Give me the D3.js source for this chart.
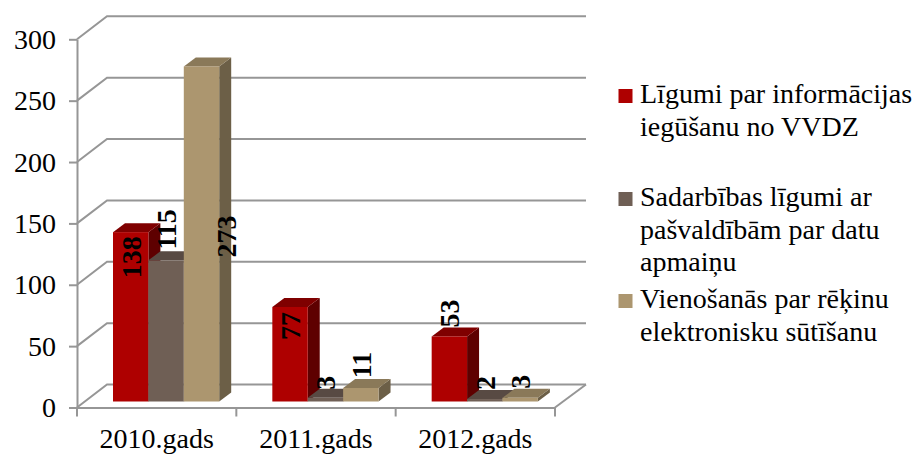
<!DOCTYPE html>
<html>
<head>
<meta charset="utf-8">
<script src="https://cdn.jsdelivr.net/npm/d3@7.9.0/dist/d3.min.js"></script>
<style>
  html, body { margin: 0; background: #fff; }
  text { font-family: "Liberation Serif", serif; fill: #000; }
  .domain, .tick line { stroke: #969696; stroke-width: 2; }
</style>
</head>
<body>
<svg id="chart" width="915" height="454"></svg>
<script>
// Data
const years = ['2010.gads', '2011.gads', '2012.gads'];
const seriesNames = ['lig', 'sad', 'vie'];
const ligumi = [138, 77, 53];
const sadarbiba = [115, 3, 2];
const vienosanas = [273, 11, 3];
const yTicks = [0, 50, 100, 150, 200, 250, 300];
const legendLines = [
  ['Līgumi par informācijas', 'iegūšanu no VVDZ'],
  ['Sadarbības līgumi ar', 'pašvaldībām par datu', 'apmaiņu'],
  ['Vienošanās par rēķinu', 'elektronisku sūtīšanu']
];

// Colours per series: front, top, side
const colors = [
  { front: '#ae0000', top: '#7f0000', side: '#5e0000' },
  { front: '#6f5f55', top: '#584a43', side: '#4a3e38' },
  { front: '#ac966f', top: '#8a7959', side: '#6c5f47' }
];

// Layout
const svg = d3.select('#chart');
const wallDx = 30, wallDy = -23;   // back wall offset
const barDx = 12, barDy = -9;      // depth of each bar
const floorLift = 6;               // bars stand a bit behind the front axis
const barShift = 36;               // bars sit off centre in the band

const x = d3.scaleBand().domain(years).range([77, 555]);
const xBar = d3.scaleBand().domain(seriesNames).range([0, 106.2]);
const y = d3.scaleLinear().domain([0, 300]).range([407.5, 39.3]);

// Walls and gridlines
const grid = svg.append('g').attr('fill', 'none').attr('stroke', '#969696').attr('stroke-width', 2);
yTicks.forEach((t) => {
  grid.append('path')
    .attr('d', d3.line()([[77, y(t)], [77 + wallDx, y(t) + wallDy], [586, y(t) + wallDy]]));
});
grid.append('path')
  .attr('d', d3.line()([[555, y(0)], [555 + wallDx + 1, y(0) + wallDy]]));

// Axes
svg.append('g')
  .attr('transform', 'translate(77,0)')
  .call(d3.axisLeft(y).tickValues(yTicks).tickSize(8).tickPadding(13).tickSizeOuter(0))
  .call((g) => g.selectAll('text').attr('font-size', 28).attr('font-family', null));

const xAxis = svg.append('g')
  .attr('transform', `translate(0,${y(0)})`)
  .call(d3.axisBottom(x).tickSize(0).tickPadding(21).tickSizeOuter(0));
xAxis.selectAll('text').attr('font-size', 28).attr('font-family', null);
xAxis.selectAll('.tick line').remove();
d3.range(years.length + 1).forEach((i) => {
  xAxis.append('line')
    .attr('x1', 77 + i * x.step()).attr('x2', 77 + i * x.step())
    .attr('y1', 0).attr('y2', 9)
    .attr('stroke', '#969696').attr('stroke-width', 2);
});

// Bars, left to right so each one covers the side of the previous
const allSeries = [ligumi, sadarbiba, vienosanas];
const barLeft = (i, s) => x(years[i]) + barShift + xBar(seriesNames[s]);
const barTop = (v) => y(v) - floorLift;
const bars = svg.append('g');

years.forEach((year, i) => {
  allSeries.forEach((vals, s) => {
    const x0 = barLeft(i, s);
    const x1 = x0 + xBar.bandwidth();
    const top = barTop(vals[i]);
    const bottom = barTop(0);
    const g = bars.append('g');
    g.append('path')
      .attr('fill', colors[s].side)
      .attr('d', d3.line()([[x1, top], [x1 + barDx, top + barDy], [x1 + barDx, bottom + barDy], [x1, bottom]]) + 'Z');
    g.append('path')
      .attr('fill', colors[s].top)
      .attr('d', d3.line()([[x0, top], [x0 + barDx, top + barDy], [x1 + barDx, top + barDy], [x1, top]]) + 'Z');
    g.append('rect')
      .attr('x', x0).attr('y', top)
      .attr('width', xBar.bandwidth()).attr('height', bottom - top)
      .attr('fill', colors[s].front);
  });
});

// Data labels are rotated; each nudge is the label centre minus the bar top
const labelNudge = [
  [25, 19, -23],
  [-31, -15, -16],
  [170, -23, -16]
];
const labels = svg.append('g');
years.forEach((year, i) => {
  allSeries.forEach((vals, s) => {
    const cx = barLeft(i, s) + xBar.bandwidth() / 2 + (s === 2 && i === 0 ? 25 : 0);
    const cy = barTop(vals[i]) + labelNudge[s][i];
    labels.append('text')
      .attr('transform', `translate(${cx},${cy}) rotate(-90)`)
      .attr('text-anchor', 'middle')
      .attr('dy', '0.35em')
      .attr('font-size', 28)
      .attr('font-weight', 'bold')
      .text(vals[i]);
  });
});

// Legend
const legendTop = [103, 206, 308];
const legend = svg.append('g');
legendLines.forEach((lines, s) => {
  legend.append('rect')
    .attr('x', 618.5).attr('y', legendTop[s] - 14)
    .attr('width', 14).attr('height', 14)
    .attr('fill', colors[s].front);
  lines.forEach((line, j) => {
    legend.append('text')
      .attr('x', 640).attr('y', legendTop[s] + j * 32.7)
      .attr('font-size', 28)
      .text(line);
  });
});
</script>
</body>
</html>
